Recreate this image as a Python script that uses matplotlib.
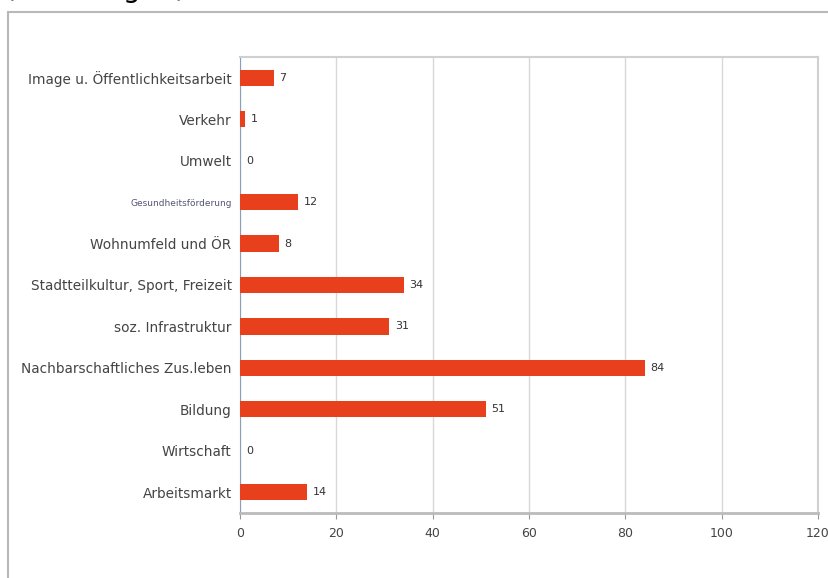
import matplotlib.pyplot as plt
from matplotlib.patches import Rectangle

# Kategorien von oben nach unten
kategorien = [
    "Image u. Öffentlichkeitsarbeit",
    "Verkehr",
    "Umwelt",
    "Gesundheitsförderung",
    "Wohnumfeld und ÖR",
    "Stadtteilkultur, Sport, Freizeit",
    "soz. Infrastruktur",
    "Nachbarschaftliches Zus.leben",
    "Bildung",
    "Wirtschaft",
    "Arbeitsmarkt",
]
werte = [7, 1, 0, 12, 8, 34, 31, 84, 51, 0, 14]
xticks = [0, 20, 40, 60, 80, 100, 120]

fig = plt.figure(figsize=(8.29, 5.78), dpi=100)

# Rahmen um das Diagramm (rechts und unten abgeschnitten)
fig.patches.append(Rectangle((8 / 829, -0.05), 1.0, 1.05 - 12 / 578,
                             transform=fig.transFigure, fill=False,
                             edgecolor="#b8b8b8", linewidth=1.5))

# abgeschnittene Überschrift oben, nur Unterlängen sichtbar
fig.text(5 / 829, 1.0 + 3 / 578, "(Nennungen)", fontsize=20,
         color="black", va="baseline", ha="left")

ax = fig.add_axes([240 / 829, 65 / 578, 578 / 829, 456 / 578])

y = list(range(len(kategorien)))
ax.barh(y, werte, height=0.39, color="#e8401c", zorder=3)
for yi, w in zip(y, werte):
    ax.text(w + 1.2, yi, str(w), va="center", ha="left", fontsize=8,
            color="#333333")

ax.set_xlim(0, 120)
ax.set_ylim(len(kategorien) - 0.5, -0.5)
ax.set_xticks(xticks)
ax.set_yticks(y)
ax.set_yticklabels(kategorien)
ax.tick_params(axis="y", length=0, pad=6, labelsize=9.8, labelcolor="#444444")
ax.tick_params(axis="x", length=4, color="#999999", pad=6, labelsize=9,
               labelcolor="#444444")
for lbl in ax.get_yticklabels():
    if lbl.get_text() == "Gesundheitsförderung":
        lbl.set_fontsize(6.5)
        lbl.set_color("#555577")

ax.grid(axis="x", color="#d8d8d8", linewidth=1, zorder=0)
ax.spines["left"].set_color("#8aa0b8")
ax.spines["left"].set_linewidth(0.8)
ax.spines["bottom"].set_color("#bbbbbb")
ax.spines["bottom"].set_linewidth(2)
ax.spines["top"].set_color("#d0d0d0")
ax.spines["top"].set_linewidth(1.5)
ax.spines["right"].set_color("#d0d0d0")
ax.spines["right"].set_linewidth(1.5)

fig.savefig("out.png", dpi=100)
